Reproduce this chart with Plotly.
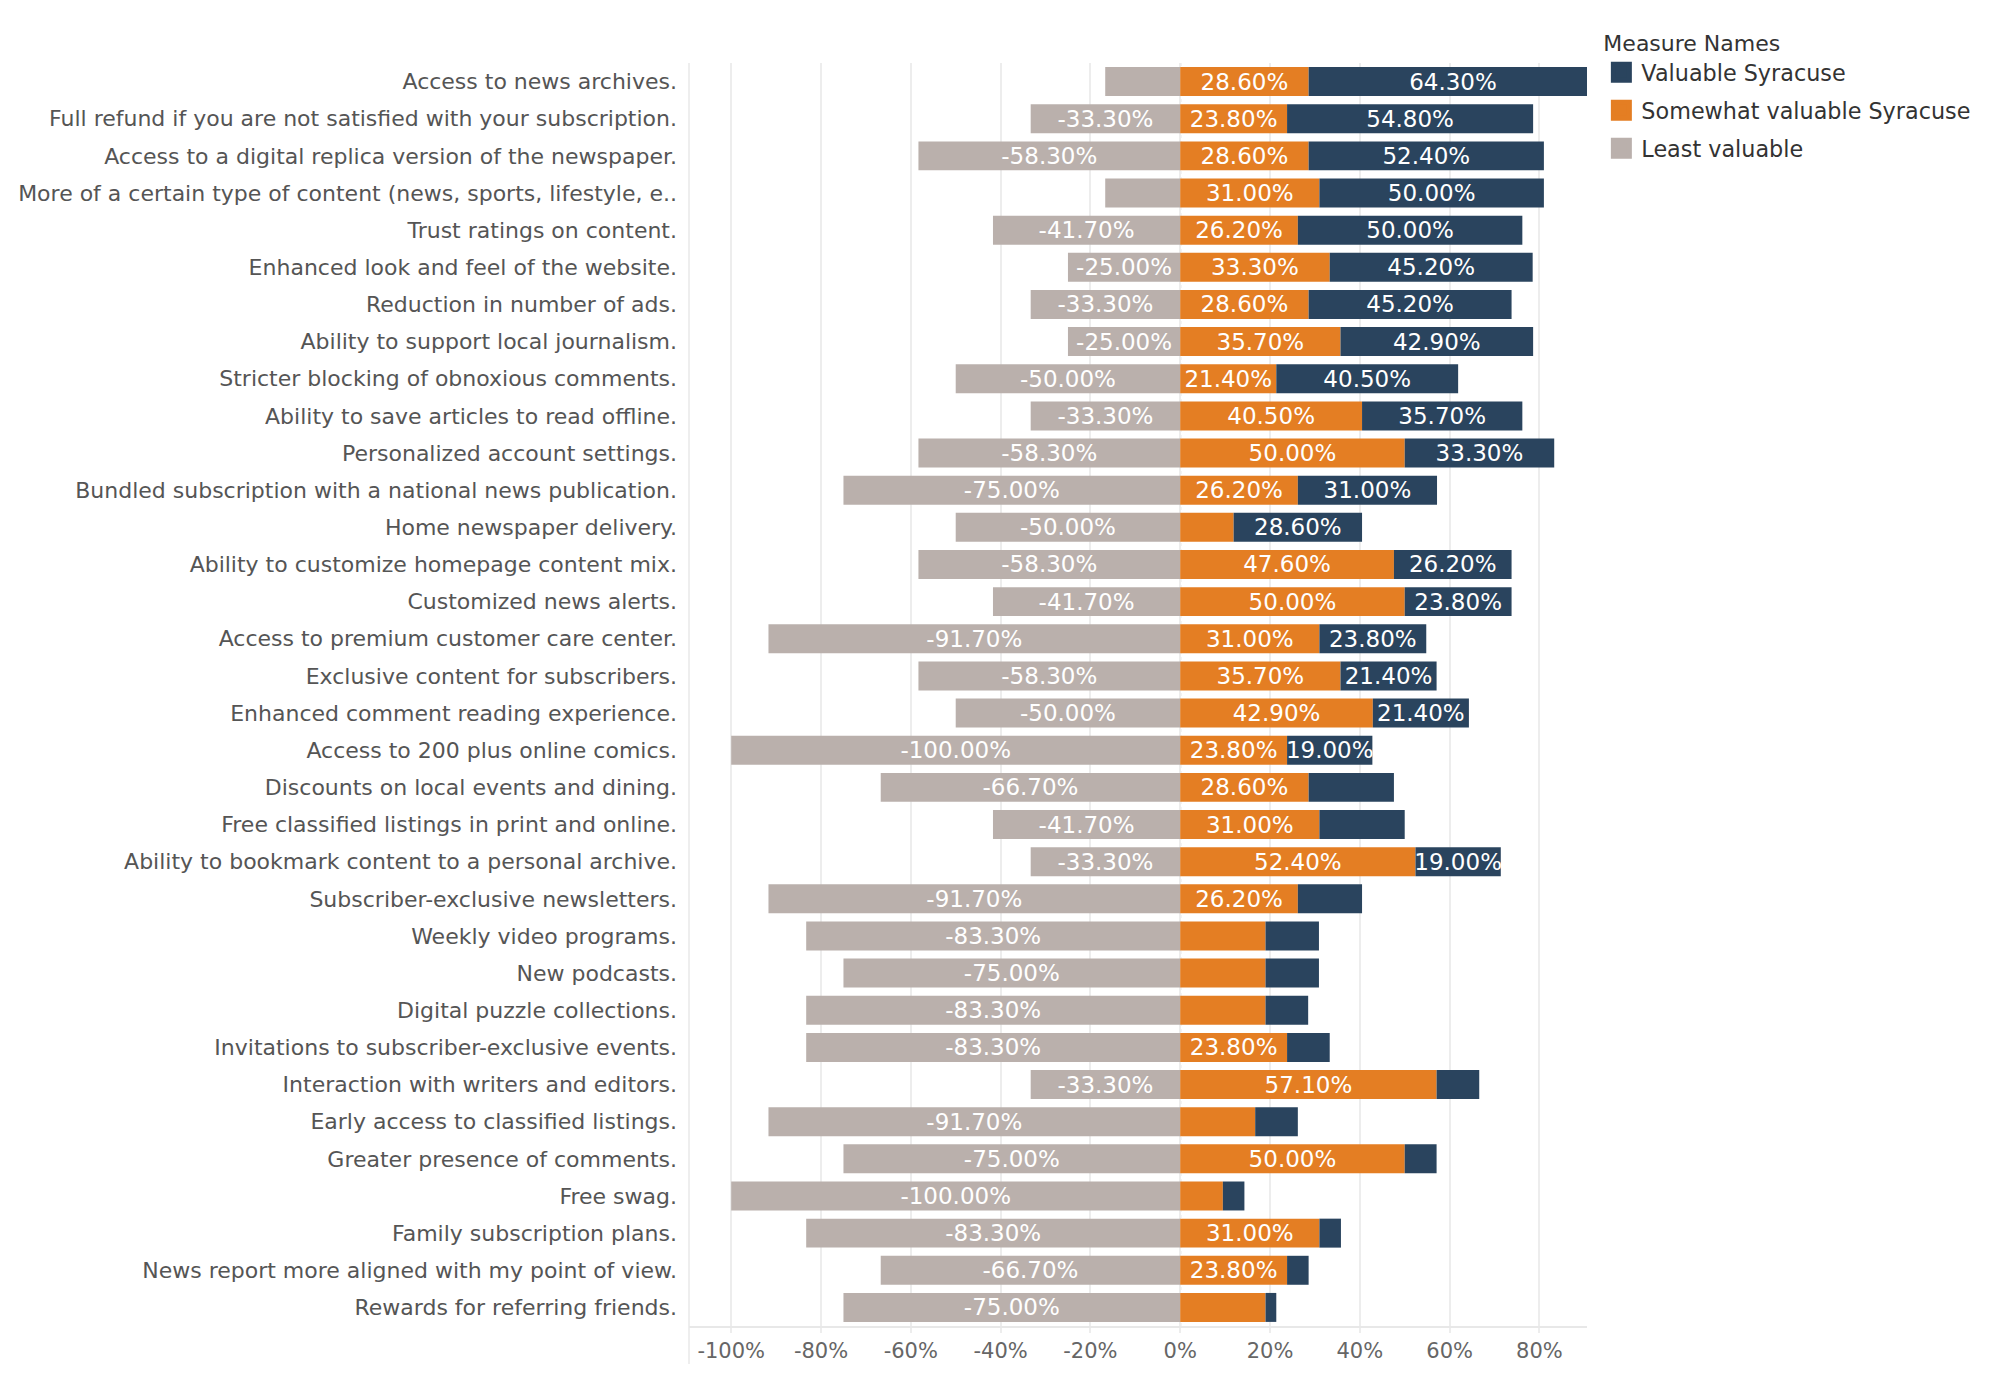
import plotly.graph_objects as go

categories = [
    "Access to news archives.",
    "Full refund if you are not satisfied with your subscription.",
    "Access to a digital replica version of the newspaper.",
    "More of a certain type of content (news, sports, lifestyle, e..",
    "Trust ratings on content.",
    "Enhanced look and feel of the website.",
    "Reduction in number of ads.",
    "Ability to support local journalism.",
    "Stricter blocking of obnoxious comments.",
    "Ability to save articles to read offline.",
    "Personalized account settings.",
    "Bundled subscription with a national news publication.",
    "Home newspaper delivery.",
    "Ability to customize homepage content mix.",
    "Customized news alerts.",
    "Access to premium customer care center.",
    "Exclusive content for subscribers.",
    "Enhanced comment reading experience.",
    "Access to 200 plus online comics.",
    "Discounts on local events and dining.",
    "Free classified listings in print and online.",
    "Ability to bookmark content to a personal archive.",
    "Subscriber-exclusive newsletters.",
    "Weekly video programs.",
    "New podcasts.",
    "Digital puzzle collections.",
    "Invitations to subscriber-exclusive events.",
    "Interaction with writers and editors.",
    "Early access to classified listings.",
    "Greater presence of comments.",
    "Free swag.",
    "Family subscription plans.",
    "News report more aligned with my point of view.",
    "Rewards for referring friends.",
]

least_valuable = [
    -16.7, -33.3, -58.3, -16.7, -41.7, -25.0, -33.3, -25.0, -50.0, -33.3,
    -58.3, -75.0, -50.0, -58.3, -41.7, -91.7, -58.3, -50.0, -100.0, -66.7,
    -41.7, -33.3, -91.7, -83.3, -75.0, -83.3, -83.3, -33.3, -91.7, -75.0,
    -100.0, -83.3, -66.7, -75.0,
]

somewhat_valuable = [
    28.6, 23.8, 28.6, 31.0, 26.2, 33.3, 28.6, 35.7, 21.4, 40.5,
    50.0, 26.2, 11.9, 47.6, 50.0, 31.0, 35.7, 42.9, 23.8, 28.6,
    31.0, 52.4, 26.2, 19.0, 19.0, 19.0, 23.8, 57.1, 16.7, 50.0,
    9.5, 31.0, 23.8, 19.0,
]

valuable = [
    64.3, 54.8, 52.4, 50.0, 50.0, 45.2, 45.2, 42.9, 40.5, 35.7,
    33.3, 31.0, 28.6, 26.2, 23.8, 23.8, 21.4, 21.4, 19.0, 19.0,
    19.0, 19.0, 14.3, 11.9, 11.9, 9.5, 9.5, 9.5, 9.5, 7.1,
    4.8, 4.8, 4.8, 2.4,
]

# rows whose mark label was suppressed in the original (label did not fit)
least_hidden = [0, 3]
somewhat_hidden = [12, 23, 24, 25, 28, 30, 33]
valuable_hidden = [19, 20, 22, 23, 24, 25, 26, 27, 28, 29, 30, 31, 32, 33]

tick_values = [-100, -80, -60, -40, -20, 0, 20, 40, 60, 80]
tick_labels = ["-100%", "-80%", "-60%", "-40%", "-20%", "0%", "20%", "40%", "60%", "80%"]

series_names = ["Valuable Syracuse", "Somewhat valuable Syracuse", "Least valuable"]
colors = {"Valuable Syracuse": "#2a445e",
          "Somewhat valuable Syracuse": "#e47e23",
          "Least valuable": "#bab0ac"}

FONT = "DejaVu Sans, Verdana, sans-serif"


def labels(values, hidden):
    return ["" if i in hidden else f"{v:.2f}%" for i, v in enumerate(values)]


fig = go.Figure()

bar_common = dict(
    orientation="h",
    width=0.78,
    textposition="inside",
    insidetextanchor="middle",
    textangle=0,
    textfont=dict(family=FONT, size=23, color="white"),
    showlegend=False,
    hoverinfo="x+y",
)

fig.add_trace(go.Bar(y=categories, x=least_valuable, name="Least valuable",
                     marker=dict(color=colors["Least valuable"], line=dict(width=0)),
                     text=labels(least_valuable, least_hidden), **bar_common))
fig.add_trace(go.Bar(y=categories, x=somewhat_valuable, name="Somewhat valuable Syracuse",
                     marker=dict(color=colors["Somewhat valuable Syracuse"], line=dict(width=0)),
                     text=labels(somewhat_valuable, somewhat_hidden), **bar_common))
fig.add_trace(go.Bar(y=categories, x=valuable, name="Valuable Syracuse",
                     marker=dict(color=colors["Valuable Syracuse"], line=dict(width=0)),
                     text=labels(valuable, valuable_hidden), **bar_common))

# legend entries (square swatches)
for i, nm in enumerate(series_names):
    fig.add_trace(go.Scatter(
        x=[None], y=[None], mode="markers", name=nm,
        legendgroup=f"g{i}", legendrank=i + 1,
        marker=dict(symbol="square", size=16, color=colors[nm],
                    line=dict(color=colors[nm], width=5)),
        showlegend=True, hoverinfo="skip",
    ))

# the page body adds an 8px margin; the figure is sized to fit inside it
fig.update_layout(
    width=1974, height=1357,
    margin=dict(l=681, r=395, t=54.5, b=39, autoexpand=False),
    barmode="relative",
    plot_bgcolor="white", paper_bgcolor="white",
    font=dict(family=FONT, size=22, color="#555555"),
    uniformtext=dict(minsize=23, mode="show"),
    legend=dict(
        title=dict(text="Measure Names", font=dict(family=FONT, size=22, color="#333333")),
        font=dict(family=FONT, size=22.3, color="#333333"),
        x=1.016, xanchor="left", y=1.032, yanchor="top",
        tracegroupgap=6, traceorder="grouped",
        bgcolor="rgba(0,0,0,0)", itemclick=False,
    ),
    xaxis=dict(
        range=[-109.4, 90.6],
        tickvals=tick_values, ticktext=tick_labels,
        showgrid=True, gridcolor="#ededed", gridwidth=1.5,
        zeroline=False,
        showline=True, linecolor="#e8e8e8", linewidth=2,
        ticks="outside", ticklen=5, tickcolor="#ededed", tickwidth=1.5,
        tickfont=dict(family=FONT, size=21, color="#666666"),
        fixedrange=True,
    ),
    yaxis=dict(
        autorange="reversed",
        showgrid=False, zeroline=False, showline=False,
        ticks="", ticklabelstandoff=11,
        tickfont=dict(family=FONT, size=22, color="#555555"),
        fixedrange=True,
    ),
    shapes=[
        dict(type="line", xref="x", yref="paper", x0=0, x1=0, y0=0, y1=1,
             line=dict(color="#c4c4c4", width=2, dash="3px,3px"), layer="below"),
        dict(type="line", xref="paper", yref="paper", x0=0, x1=0, y0=-0.03, y1=1,
             line=dict(color="#e8e8e8", width=1.5), layer="below"),
    ],
)

fig.write_html("out.html")
